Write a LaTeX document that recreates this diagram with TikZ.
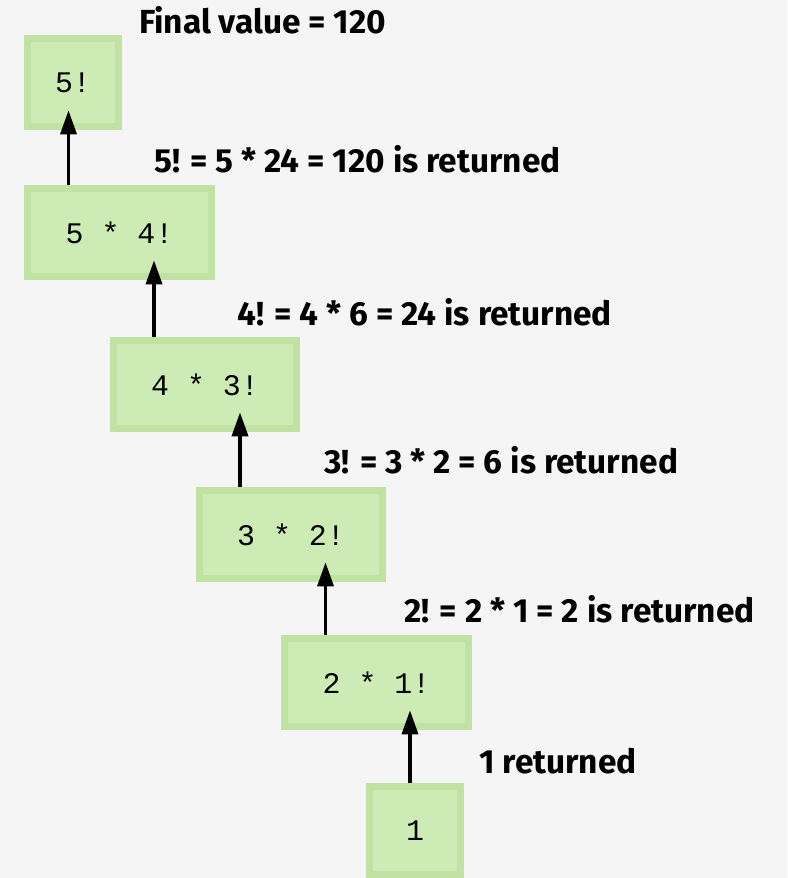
\documentclass[tikz,border=0pt]{standalone}
\usepackage{fontspec}
\setmainfont{Fira Sans}
\newfontfamily\codefont{Liberation Mono}
\usetikzlibrary{arrows.meta}

\definecolor{paper}{RGB}{245,245,245}
\definecolor{boxrim}{RGB}{192,226,162}
\definecolor{boxface}{RGB}{205,235,180}

\begin{document}
\begin{tikzpicture}[x=0.02cm, y=-0.02cm,
    callbox/.style={rectangle, fill=boxrim, minimum height=1.9cm, inner sep=0pt,
        font=\codefont\fontsize{17}{20}\selectfont,
        path picture={\fill[boxface] ([shift={(0.14cm,-0.14cm)}]path picture bounding box.north west)
            rectangle ([shift={(-0.14cm,0.14cm)}]path picture bounding box.south east);}},
    widebox/.style={callbox, minimum width=3.82cm},
    unitbox/.style={callbox, minimum width=1.96cm},
    ret/.style={-{Triangle[length=0.48cm, width=0.32cm]}, line width=2pt},
    note/.style={anchor=base west, font=\bfseries\fontsize{19}{22}\selectfont}]

    % background / page size
    \fill[paper] (0,0) rectangle (787,878);

    % 1. Calls, from 5! down to the base case
    \node[unitbox] (f5) at (73,82.5) {5!};
    \node[widebox] (f4) at (119.5,232.5) {5 * 4!};
    \node[widebox] (f3) at (205,384.5) {4 * 3!};
    \node[widebox] (f2) at (291,534.5) {3 * 2!};
    \node[widebox] (f1) at (376.5,682.5) {2 * 1!};
    \node[unitbox] (f0) at (415,830.5) {1};

    % 2. Values going back up
    \draw[ret] ([xshift=-0.1cm]f0.north) -- ([xshift=-0.1cm, yshift=0.4cm]f1.south -| f0.north);
    \draw[ret] ([xshift=-1.02cm]f1.north) -- ([xshift=-1.02cm, yshift=0.4cm]f2.south -| f1.north);
    \draw[ret] ([xshift=-1.02cm]f2.north) -- ([xshift=-1.02cm, yshift=0.4cm]f3.south -| f2.north);
    \draw[ret] ([xshift=-1.02cm]f3.north) -- ([xshift=-1.02cm, yshift=0.4cm]f4.south -| f3.north);
    \draw[ret] ([xshift=-1.02cm]f4.north) -- ([xshift=-1.02cm, yshift=0.4cm]f5.south -| f4.north);

    % 3. Labels
    \node[note] (fin) at (133,34) {Final value = 120};
    \node[note] (r5) at (148,173) {5! = 5 * 24 = 120 is returned};
    \node[note] (r4) at (231,325) {4! = 4 * 6 = 24 is returned};
    \node[note] (r3) at (318,473) {3! = 3 * 2 = 6 is returned};
    \node[note] (r2) at (398,622) {2! = 2 * 1 = 2 is returned};
    \node[note] (r1) at (473,773) {1 returned};

\end{tikzpicture}
\end{document}
